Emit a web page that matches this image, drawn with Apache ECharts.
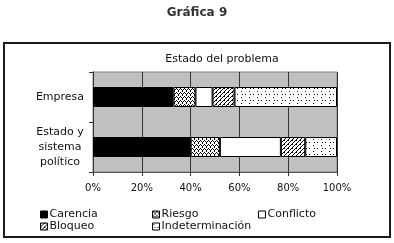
<!DOCTYPE html>
<html>
<head>
<meta charset="utf-8">
<script src="https://cdn.jsdelivr.net/npm/echarts@6/dist/echarts.min.js"></script>
<style>
html,body{margin:0;padding:0;background:#fff;}
#chart{width:394px;height:243px;}
</style>
</head>
<body>
<div id="chart"></div>
<script>
// datos
var categorias = ['Empresa', 'Estado y\nsistema\npolítico'];
var nombres = ['Carencia', 'Riesgo', 'Conflicto', 'Bloqueo', 'Indeterminación'];
var carencia = [33, 40];
var riesgo = [9, 12];
var conflicto = [7, 25];
var bloqueo = [9, 10];
var indeterminacion = [42, 13];
var ticks = [0, 20, 40, 60, 80, 100];

//tramas de relleno
function trama(w, h, dibujar){
	var c = document.createElement('canvas');
	c.width = w; c.height = h;
	var ctx = c.getContext('2d');
	ctx.fillStyle = '#fff';
	ctx.fillRect(0, 0, w, h);
	ctx.fillStyle = '#000';
	dibujar(ctx);
	return {image: c, repeat: 'repeat'};
}
var tramaRiesgo = trama(4, 4, function(ctx){
	ctx.fillRect(0, 0, 1, 1); ctx.fillRect(1, 1, 1, 1);
	ctx.fillRect(2, 2, 1, 1); ctx.fillRect(3, 1, 1, 1);
	ctx.fillRect(2, 3, 1, 1);
});
var tramaBloqueo = trama(4, 4, function(ctx){
	ctx.fillRect(3, 0, 1, 1); ctx.fillRect(2, 1, 1, 1);
	ctx.fillRect(1, 2, 1, 1); ctx.fillRect(0, 3, 1, 1);
	ctx.fillRect(0, 0, 1, 1);
});
var tramaIndet = trama(8, 6, function(ctx){
	ctx.fillRect(1, 1, 1, 1); ctx.fillRect(5, 4, 1, 1);
	ctx.fillRect(2, 4, 1, 1);
});
var rellenos = ['#000', tramaRiesgo, '#fff', tramaBloqueo, tramaIndet];
var valores = [carencia, riesgo, conflicto, bloqueo, indeterminacion];

var series = nombres.map(function(n, i){
	return {
		name: n,
		type: 'bar',
		stack: 'total',
		barCategoryGap: '60%',
		data: valores[i],
		itemStyle: {color: rellenos[i], borderColor: '#000', borderWidth: 1},
		emphasis: {disabled: true}
	};
});

var leyenda = function(datos, x){
	return {
		data: datos,
		orient: 'vertical',
		left: x,
		top: 209,
		itemWidth: 7,
		itemHeight: 7,
		itemGap: 1,
		icon: 'rect',
		padding: 0,
		selectedMode: false,
		textStyle: {fontFamily: 'DejaVu Sans', fontSize: 11, lineHeight: 10, color: '#111', padding: [0, 0, 0, -3]},
		itemStyle: {borderColor: '#000', borderWidth: 1}
	};
};

var myChart = echarts.init(document.getElementById('chart'), null, {renderer: 'canvas'});
myChart.setOption({
	animation: false,
	backgroundColor: '#fff',
	title: [
		{text: 'Gráfica 9', left: 'center', top: 2, textStyle: {fontFamily: 'DejaVu Sans', fontSize: 12, fontWeight: 'bold', color: '#333'}},
		{text: 'Estado del problema', left: 217, textAlign: 'center', top: 49, textStyle: {fontFamily: 'DejaVu Sans', fontSize: 11, fontWeight: 'normal', color: '#111'}}
	],
	legend: [
		leyenda(['Carencia', 'Bloqueo'], 40),
		leyenda(['Riesgo', 'Indeterminación'], 152),
		leyenda(['Conflicto'], 258)
	],
	graphic: [{
		type: 'rect',
		shape: {x: 4, y: 43, width: 386, height: 194},
		style: {fill: null, stroke: '#1a1a1a', lineWidth: 2},
		silent: true
	}],
	grid: {left: 93, top: 72, width: 244, height: 100, show: true, backgroundColor: '#c0c0c0', borderColor: '#808080', borderWidth: 1},
	xAxis: {
		type: 'value',
		min: 0,
		max: 100,
		interval: 20,
		axisLine: {show: true, lineStyle: {color: '#555'}},
		axisTick: {show: true, length: 4, lineStyle: {color: '#333'}},
		splitLine: {show: true, lineStyle: {color: '#333', width: 1}},
		axisLabel: {
			margin: 11,
			fontFamily: 'DejaVu Sans',
			fontSize: 10,
			color: '#111',
			formatter: function(v){ return ticks.indexOf(v) >= 0 ? v + '%' : ''; }
		}
	},
	yAxis: {
		type: 'category',
		inverse: true,
		data: categorias,
		axisLine: {show: true, lineStyle: {color: '#333'}},
		axisTick: {show: true, length: 4, lineStyle: {color: '#333'}},
		splitLine: {show: false},
		axisLabel: {
			margin: 33,
			align: 'center',
			fontFamily: 'DejaVu Sans',
			fontSize: 11,
			lineHeight: 15,
			color: '#111'
		}
	},
	series: series
});
</script>
</body>
</html>
